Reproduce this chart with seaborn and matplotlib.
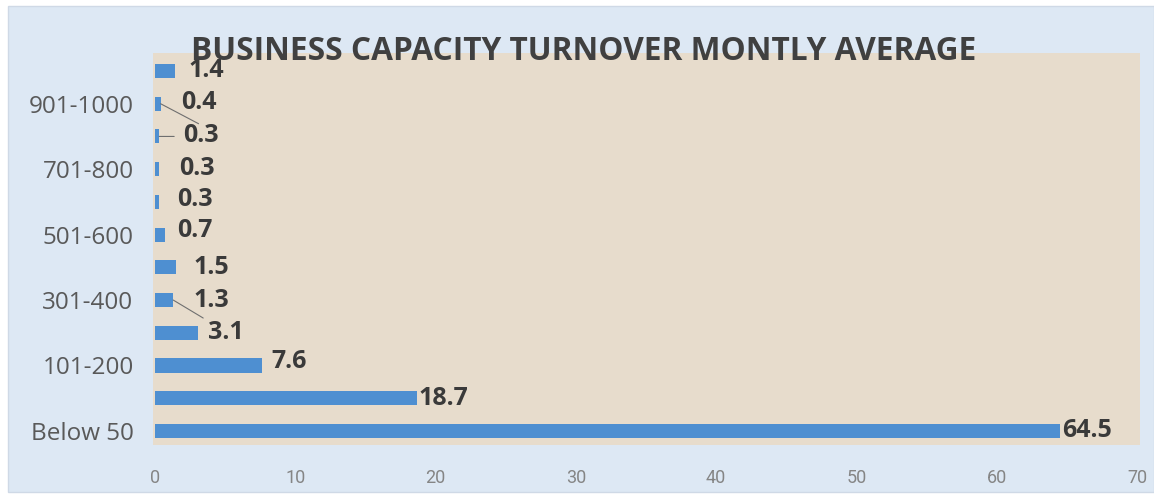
import matplotlib
matplotlib.use("Agg")
import matplotlib.pyplot as plt
import matplotlib.patches as mpatches
import seaborn as sns
import pandas as pd

# Monthly turnover bands, listed from the top of the chart to the bottom
categories = ["Above 1000", "901-1000", "801-900", "701-800", "601-700",
              "501-600", "401-500", "301-400", "201-300", "101-200",
              "51-100", "Below 50"]
values = [1.4, 0.4, 0.3, 0.3, 0.3, 0.7, 1.5, 1.3, 3.1, 7.6, 18.7, 64.5]
shown_labels = ["", "901-1000", "", "701-800", "", "501-600", "",
                "301-400", "", "101-200", "", "Below 50"]
x_ticks = [0, 10, 20, 30, 40, 50, 60, 70]
title = "BUSINESS CAPACITY TURNOVER MONTLY AVERAGE"

# horizontal / vertical nudges of the value labels, in pixels
label_dx = [14, 21, 24, 20, 18, 12, 17, 20, 10, 10, 1, 2]
label_dy = [0, 1, 1, 1, 2, 4, 0, 0, 0, 4, 0, 0]

df = pd.DataFrame({"band": categories, "share": values})

sns.set_theme(style="white")
plt.rcParams["font.family"] = ["Open Sans", "DejaVu Sans"]

W, H = 1154, 497
fig = plt.figure(figsize=(W / 100, H / 100), dpi=100, facecolor="white")

# light blue chart panel behind everything
panel = mpatches.Rectangle((8 / W, 5 / H), (W - 8) / W, 486 / H,
                           transform=fig.transFigure, facecolor="#dde8f4",
                           edgecolor="#cfd9e6", linewidth=1.0, zorder=-10)
fig.patches.append(panel)

ax = fig.add_axes([153 / W, 1 - 445 / H, (1140 - 153) / W, (445 - 53) / H])
ax.set_zorder(1)
ax.set_facecolor("#e7dccc")

sns.barplot(data=df, x="share", y="band", order=categories, orient="h",
            color="#4e8fd1", saturation=1, width=0.43, linewidth=0, ax=ax)

ax.set_xlim(-0.14, 70.21)
ax.set_ylim(11.43, -0.55)
ax.set_xticks(x_ticks)
ax.set_xticklabels([str(t) for t in x_ticks], fontsize=13, color="#858585",
                   family=["Roboto", "DejaVu Sans"])
ax.set_yticks(range(len(categories)))
ax.set_yticklabels(shown_labels, fontsize=17.5, color="#595959")
ax.tick_params(axis="x", length=0, pad=17)
ax.tick_params(axis="y", length=0, pad=14)
ax.set_xlabel("")
ax.set_ylabel("")
for s in ax.spines.values():
    s.set_visible(False)

# value labels
for i, (v, dx, dy) in enumerate(zip(values, label_dx, label_dy)):
    ax.annotate(f"{v}", xy=(v, i), xytext=(dx * 0.72, dy * 0.72),
                textcoords="offset points", ha="left", va="center",
                fontsize=18, fontweight="bold", color="#3a3a3a", zorder=5)

# leader lines tying displaced labels to their bars
leader = dict(color="#6f6f6f", linewidth=0.8, zorder=4)
ax.annotate("", xy=(values[1], 1), xytext=(38 * 0.72, -20 * 0.72),
            textcoords="offset points",
            arrowprops=dict(arrowstyle="-", shrinkA=0, shrinkB=0, **leader))
ax.annotate("", xy=(values[2], 2), xytext=(15 * 0.72, 0),
            textcoords="offset points",
            arrowprops=dict(arrowstyle="-", shrinkA=0, shrinkB=0, **leader))
ax.annotate("", xy=(values[7], 7), xytext=(30 * 0.72, -18 * 0.72),
            textcoords="offset points",
            arrowprops=dict(arrowstyle="-", shrinkA=0, shrinkB=0, **leader))

fig.text(583.5 / W, 1 - 60 / H, title, ha="center", va="baseline",
         fontsize=22.8, fontweight="bold", color="#404040", zorder=6)

fig.savefig("out.png", dpi=100, facecolor=fig.get_facecolor())
